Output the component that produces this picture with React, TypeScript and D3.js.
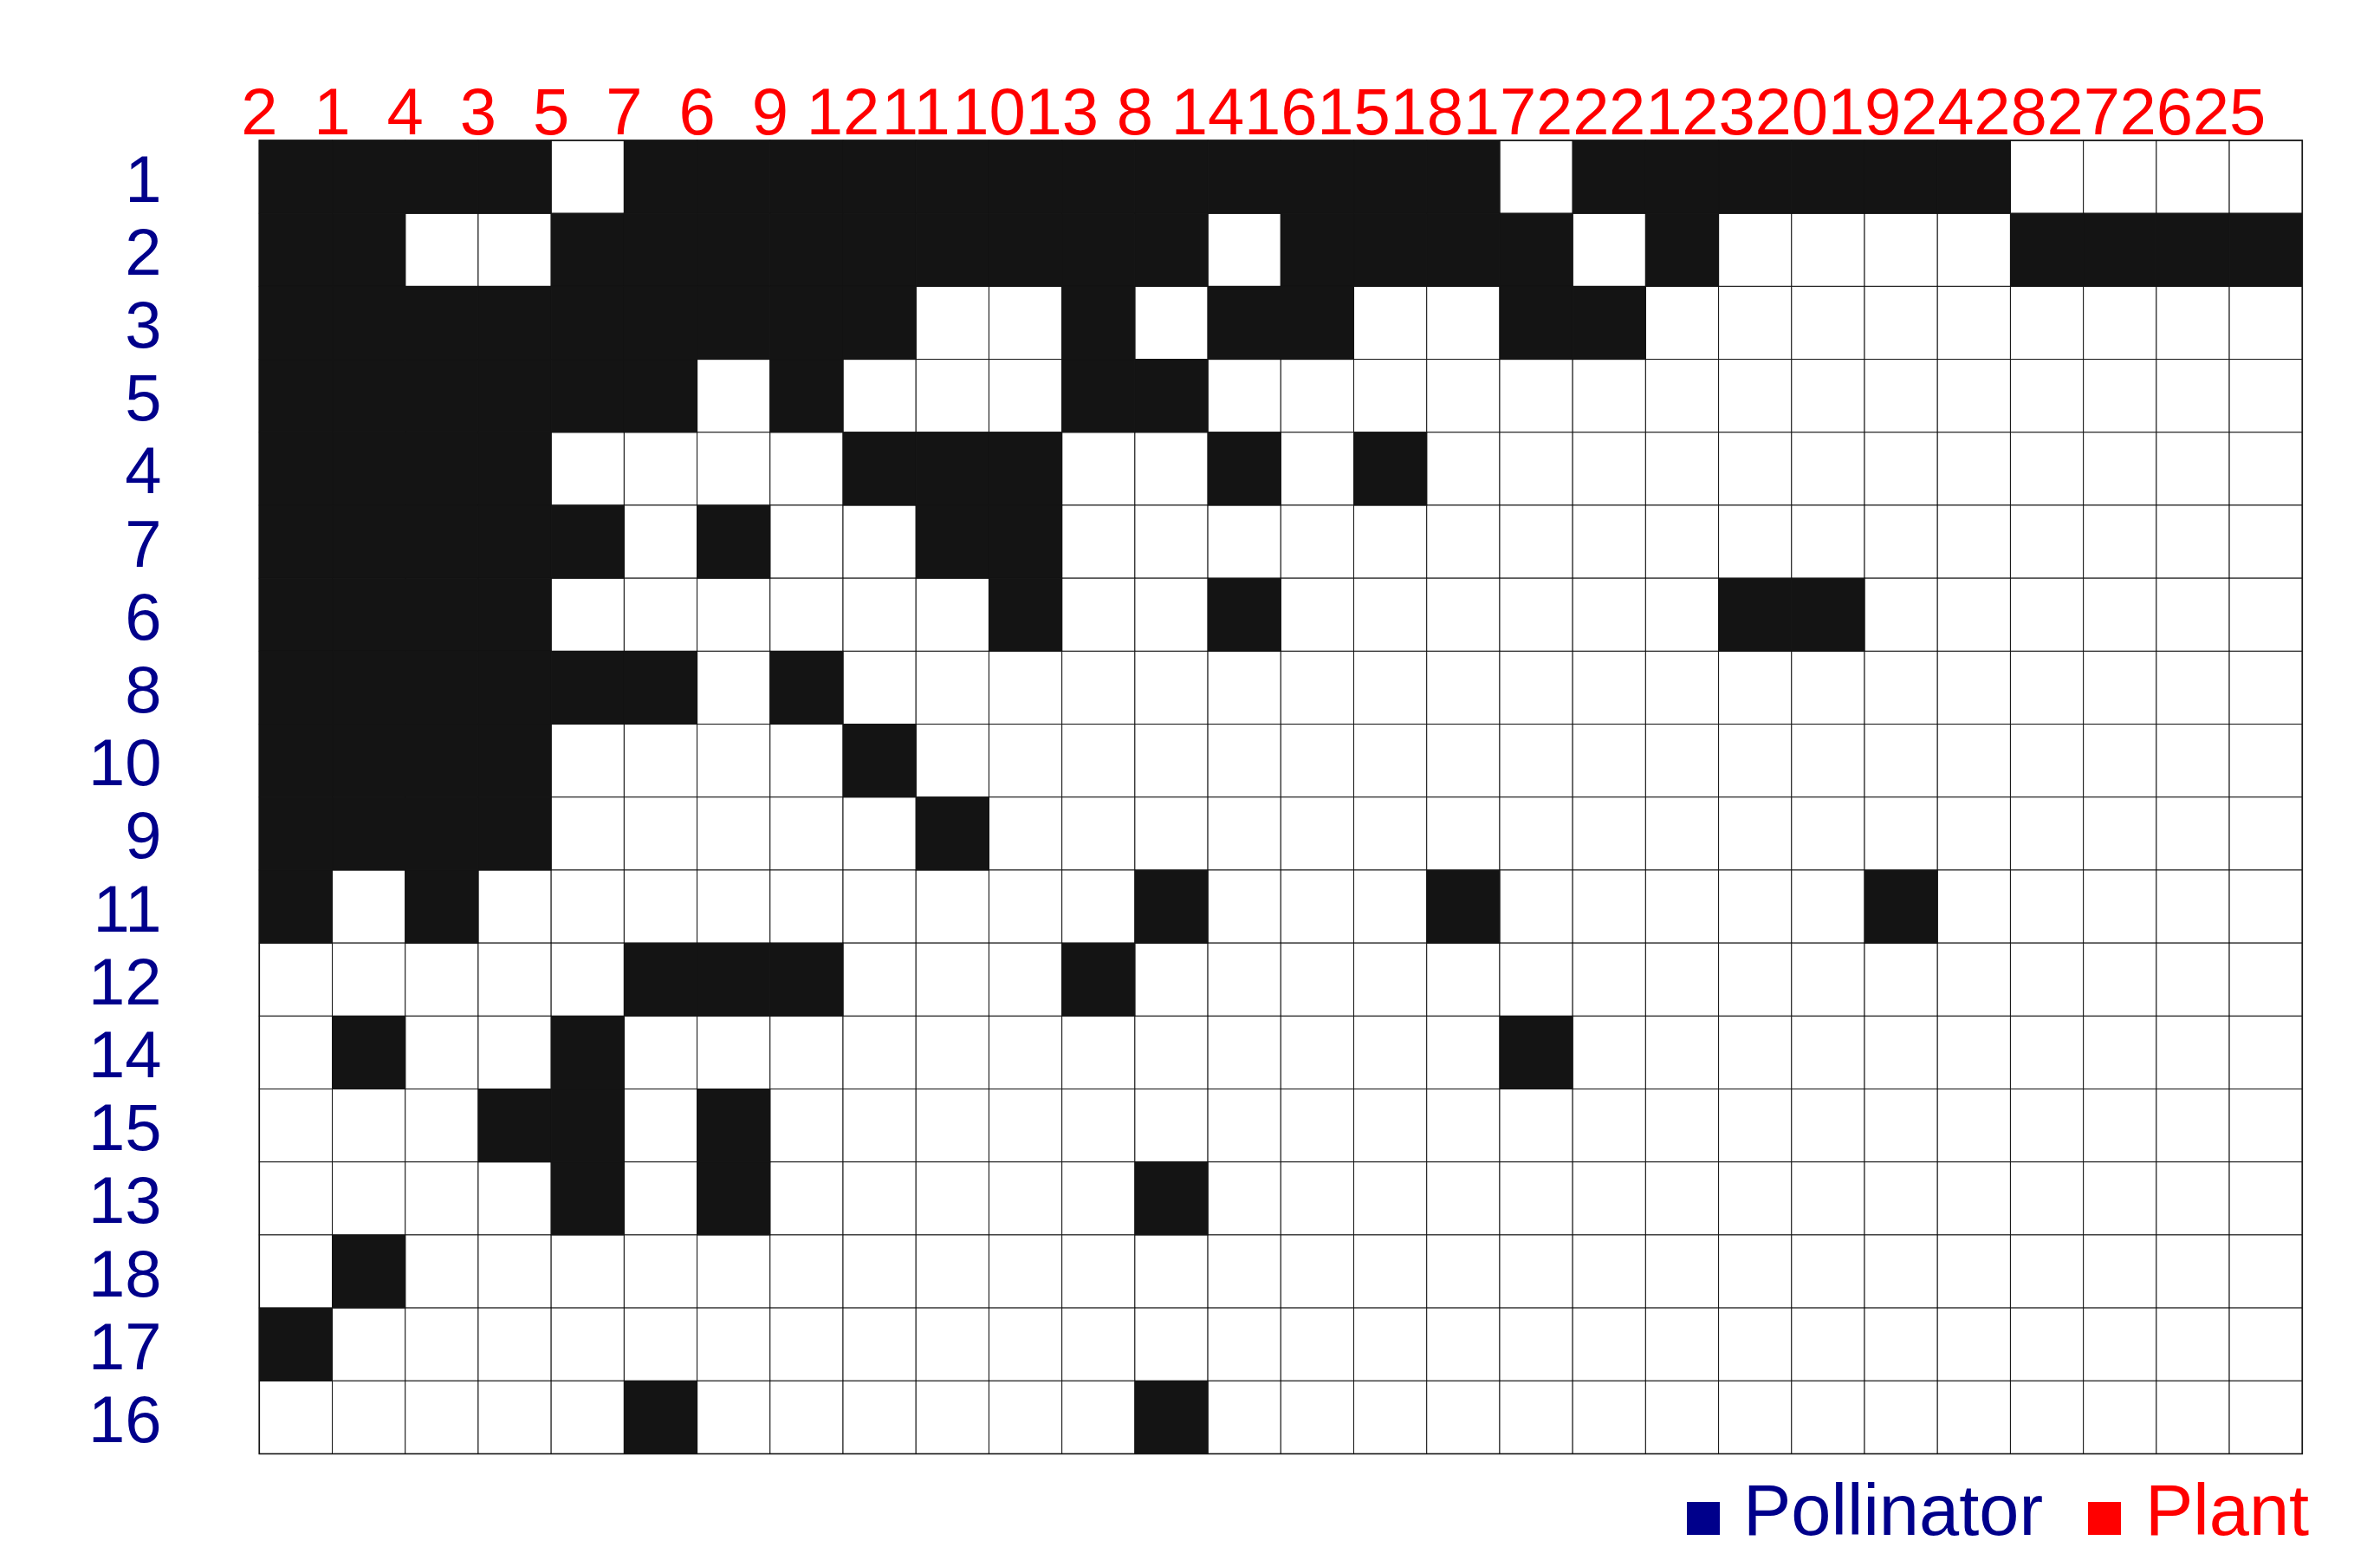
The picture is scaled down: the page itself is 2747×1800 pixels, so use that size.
import React from "react";
import * as d3 from "d3";

const plantLabels = ["2","1","4","3","5","7","6","9","12","11","10","13","8","14","16","15","18","17","22","21","23","20","19","24","28","27","26","25"];
const pollinatorLabels = ["1","2","3","5","4","7","6","8","10","9","11","12","14","15","13","18","17","16"];
const interactions = [
  "1111011111111111101111110000",
  "1100111111111011110100001111",
  "1111111110010110011000000000",
  "1111110100011000000000000000",
  "1111000011100101000000000000",
  "1111101001100000000000000000",
  "1111000000100100000011000000",
  "1111110100000000000000000000",
  "1111000010000000000000000000",
  "1111000001000000000000000000",
  "1010000000001000100000100000",
  "0000011100010000000000000000",
  "0100100000000000010000000000",
  "0001101000000000000000000000",
  "0000101000001000000000000000",
  "0100000000000000000000000000",
  "1000000000000000000000000000",
  "0000010000001000000000000000",
];
const legendItems = ["Pollinator", "Plant"];

const W = 2747, H = 1800;
const FONT = "'Liberation Sans', Arial, sans-serif";
const BLUE = "#00008B";
const RED = "#FF0000";

export default function App() {
  const x = d3.scaleBand<number>().domain(d3.range(plantLabels.length)).range([299.3, 2657.3]).padding(0);
  const y = d3.scaleBand<number>().domain(d3.range(pollinatorLabels.length)).range([162, 1677.5]).padding(0);
  const bw = x.bandwidth();
  const bh = y.bandwidth();
  const cells: { r: number; c: number; v: number }[] = [];
  interactions.forEach((row, r) => {
    row.split("").forEach((ch, c) => cells.push({ r, c, v: +ch }));
  });
  return (
    <svg width={W} height={H} style={{ position: "absolute", left: 0, top: 0, background: "#fff" }} fontFamily={FONT}>
      <rect x={0} y={0} width={W} height={H} fill="#fff" />
      {cells.filter(d => d.v === 0).map(d => (
        <rect key={`w${d.r}-${d.c}`} x={x(d.c)} y={y(d.r)} width={bw} height={bh} fill="#fff" stroke="#141414" strokeWidth={1} />
      ))}
      {cells.filter(d => d.v === 1).map(d => (
        <rect key={`b${d.r}-${d.c}`} x={x(d.c)} y={y(d.r)} width={bw} height={bh} fill="#141414" stroke="#141414" strokeWidth={1} />
      ))}
      <rect x={x(0)} y={y(0)} width={bw * plantLabels.length} height={bh * pollinatorLabels.length} fill="none" stroke="#141414" strokeWidth={1.6} />
      {plantLabels.map((l, i) => (
        <text key={`p${i}`} x={x(i)} y={154.5} textAnchor="middle" fontSize={76} fill={RED}>{l}</text>
      ))}
      {pollinatorLabels.map((l, i) => (
        <text key={`q${i}`} x={186.5} y={(y(i) as number) + bh / 2 + 28.5} textAnchor="end" fontSize={76} fill={BLUE}>{l}</text>
      ))}
      <rect x={1947} y={1733} width={38} height={38} fill={BLUE} />
      <text x={2012} y={1770.7} fontSize={83} fill={BLUE}>{legendItems[0]}</text>
      <rect x={2410} y={1733} width={38} height={38} fill={RED} />
      <text x={2476} y={1770.7} fontSize={83} fill={RED}>{legendItems[1]}</text>
    </svg>
  );
}
